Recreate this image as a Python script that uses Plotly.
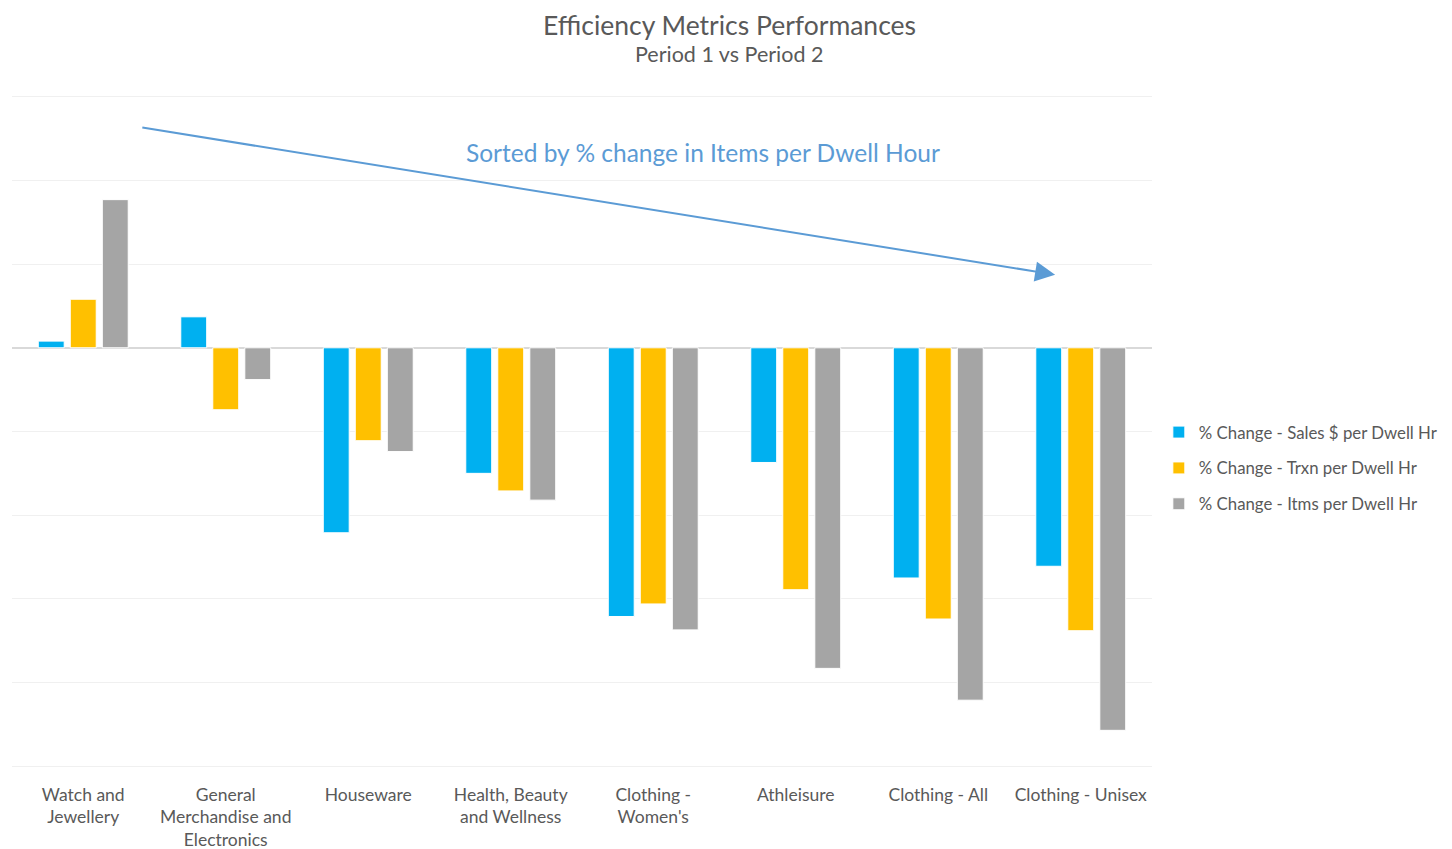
import plotly.graph_objects as go

categories = ["Watch and<br>Jewellery", "General<br>Merchandise and<br>Electronics", "Houseware",
              "Health, Beauty<br>and Wellness", "Clothing -<br>Women's", "Athleisure",
              "Clothing - All", "Clothing - Unisex"]
sales_per_dwell = [0.8, 3.7, -22.1, -15.0, -32.1, -13.7, -27.5, -26.1]
trxn_per_dwell = [5.8, -7.4, -11.1, -17.1, -30.6, -28.9, -32.4, -33.8]
items_per_dwell = [17.7, -3.8, -12.4, -18.2, -33.7, -38.3, -42.1, -45.7]

series_names = ["% Change - Sales $ per Dwell Hr", "% Change - Trxn per Dwell Hr", "% Change - Itms per Dwell Hr"]
colors = ["#00B0F0", "#FFC000", "#A5A5A5"]

FONT = "Lato, 'Open Sans', sans-serif"
TXT = "#595959"

fig = go.Figure()
for i, (name, vals) in enumerate(zip(series_names, [sales_per_dwell, trxn_per_dwell, items_per_dwell])):
    fig.add_trace(go.Bar(x=categories, y=vals, name=name, legendgroup=f"g{i}",
                         marker=dict(color=colors[i], line=dict(color="white", width=1))))

fig.update_layout(
    width=1444, height=841,
    margin=dict(l=4, r=300, t=87, b=81, autoexpand=False),
    paper_bgcolor="white", plot_bgcolor="white",
    barmode="group", bargap=0.326, bargroupgap=0.19,
    font=dict(family=FONT, color=TXT, size=17.5),
    legend=dict(x=1.006, y=0.525, xanchor="left", yanchor="top",
                font=dict(size=16.8, color=TXT), tracegroupgap=11,
                itemwidth=30, bgcolor="rgba(0,0,0,0)"),
    xaxis=dict(showgrid=False, showline=False, ticks="", tickfont=dict(size=17.5, color=TXT),
               automargin=False, ticklabelstandoff=14),
    yaxis=dict(range=[-50.2, 30.2], dtick=10, showticklabels=False, gridcolor="#F0F0F0", gridwidth=1,
               zeroline=True, zerolinecolor="#D9D9D9", zerolinewidth=2, showline=False, automargin=False),
    annotations=[
        dict(text="Efficiency Metrics Performances", x=0.629, y=1.1293, xref="paper", yref="paper",
             xanchor="center", yanchor="top", borderpad=0, showarrow=False,
             font=dict(size=26.5, color=TXT, family=FONT)),
        dict(text="Period 1 vs Period 2", x=0.629, y=1.0609, xref="paper", yref="paper",
             xanchor="center", yanchor="middle", showarrow=False, font=dict(size=21.5, color=TXT, family=FONT)),
        dict(text="Sorted by % change in Items per Dwell Hour", x=0.606, y=0.914, xref="paper", yref="paper",
             xanchor="center", yanchor="middle", showarrow=False, font=dict(size=24.5, color="#5B9BD5", family=FONT)),
        dict(text="", x=0.915, y=0.733, xref="x domain", yref="y domain",
             ax=0.113, ay=0.952, axref="x domain", ayref="y domain",
             showarrow=True, arrowhead=2, arrowsize=2, arrowwidth=2, arrowcolor="#5B9BD5"),
    ],
)

fig.write_html("out.html")
